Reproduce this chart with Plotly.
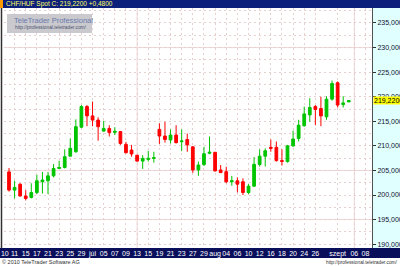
import plotly.graph_objects as go

W, H = 400, 266

# ---- data ----
opens = [204.7, 201.0, 202.2, 199.8, 199.5, 200.5, 202.7, 202.9, 203.9, 205.4,
         205.6, 207.9, 208.8, 213.8, 218.0, 216.1, 215.25, 213.0, 213.55, 212.75,
         212.9, 210.3, 209.15, 208.1, 206.9, 207.25, 207.45, 213.35, 212.0, 211.2,
         212.2, 210.85, 211.3, 209.8, 205.1, 206.2, 208.5, 208.7, 205.1, 204.75,
         202.7, 202.9, 202.7, 200.5, 201.8, 206.2, 207.9, 209.7, 209.7, 207.0,
         206.8, 210.0, 211.5, 214.1, 216.3, 218.0, 217.6, 215.9, 219.5, 222.85,
         218.4, 218.95]
highs = [205.5, 202.9, 202.4, 201.0, 202.4, 204.1, 204.7, 204.7, 206.3, 207.0,
         209.3, 211.5, 215.4, 218.3, 218.3, 219.0, 215.8, 215.1, 214.2, 213.8,
         213.0, 210.8, 210.2, 208.1, 208.1, 209.0, 208.8, 214.6, 214.9, 213.35,
         214.2, 213.35, 212.5, 209.95, 206.8, 209.8, 211.9, 208.7, 206.1, 205.75,
         203.9, 203.6, 203.4, 202.2, 207.7, 209.3, 209.5, 211.3, 210.9, 209.3,
         210.2, 213.1, 215.3, 218.0, 219.7, 218.3, 220.0, 220.1, 223.3, 223.1,
         220.1, 219.3]
lows = [200.7, 199.3, 199.7, 198.9, 199.3, 200.2, 200.3, 200.2, 203.6, 205.3,
        205.4, 207.9, 208.6, 213.6, 214.0, 214.0, 211.05, 212.9, 211.9, 212.2,
        210.2, 208.5, 207.8, 206.8, 205.3, 206.8, 206.6, 210.4, 210.65, 210.5,
        210.5, 208.95, 208.8, 204.5, 203.9, 205.9, 208.3, 204.8, 204.5, 202.4,
        201.9, 200.5, 200.0, 200.2, 201.7, 205.8, 205.8, 208.8, 206.8, 206.0,
        206.6, 209.8, 210.9, 213.9, 214.9, 214.2, 214.0, 215.3, 219.2, 217.8,
        217.8, 218.9]
closes = [201.0, 201.55, 199.8, 199.3, 200.5, 202.9, 203.05, 203.9, 205.4, 205.6,
          207.8, 209.5, 213.9, 218.0, 216.1, 215.25, 213.9, 213.55, 212.7, 212.95,
          210.5, 208.6, 208.35, 206.9, 207.45, 207.45, 207.6, 212.0, 211.3, 212.2,
          210.65, 211.0, 210.2, 205.1, 206.1, 208.4, 208.7, 204.9, 204.55, 202.7,
          202.9, 202.2, 200.5, 201.8, 206.25, 207.9, 209.0, 209.5, 207.0, 206.85,
          210.0, 211.4, 214.2, 216.5, 217.8, 217.4, 216.1, 219.5, 222.7, 218.3,
          218.74, 219.22]
x_idx = list(range(len(opens)))

x_tick_idx = [-0.75, 1, 3, 5, 7, 9, 11, 13, 15, 17, 19, 21, 23, 25, 27, 29, 31, 33, 35,
              37, 39, 41, 43, 45, 47, 49, 51, 53, 55, 59, 62, 64]
x_tick_text = ["10", "11", "15", "17", "21", "23", "25", "29", "júl", "05", "07",
               "09", "13", "15", "19", "21", "23", "27", "29", "aug", "04", "06",
               "10", "12", "16", "18", "20", "24", "26", "szept", "06", "08"]

y_tick_vals = [190, 195, 200, 205, 210, 215, 220, 225, 230, 235]
y_tick_text = ["190,0000", "195,0000", "200,0000", "205,0000", "210,0000",
               "215,0000", "220,0000", "225,0000", "230,0000", "235,0000"]
y_minor_vals = [192.5, 197.5, 202.5, 207.5, 212.5, 217.5, 222.5, 227.5, 232.5, 237.5]
solid_y = [195, 205, 230]
solid_x = [23, 62]

title_text = "CHF/HUF Spot C: 219,2200 +0,4800"
last_close_label = "219,2200"

# ---- helpers (pixel -> paper) ----
def px(x):
    return x / W

def py(y):
    return 1 - y / H

PLOT_L, PLOT_R, PLOT_T, PLOT_B = 4, 372, 8, 248
GRID = "#e6cfcf"
NAVY_TOP = "#0c1f7a"
NAVY_BOT = "#0a0f5c"
GREEN = "#00c400"
RED = "#ff0000"
FONT = "Liberation Sans, Arial, sans-serif"

fig = go.Figure()
fig.add_trace(go.Candlestick(
    x=x_idx, open=opens, high=highs, low=lows, close=closes,
    increasing=dict(line=dict(color=GREEN, width=1), fillcolor=GREEN),
    decreasing=dict(line=dict(color=RED, width=1), fillcolor=RED),
    whiskerwidth=0, showlegend=False, hoverinfo="skip",
))

shapes = [
    # title bar
    dict(type="rect", xref="paper", yref="paper", x0=0, x1=1, y0=py(8), y1=1,
         fillcolor=NAVY_TOP, line=dict(width=0), layer="below"),
    dict(type="rect", xref="paper", yref="paper", x0=0, x1=px(3), y0=py(8), y1=1,
         fillcolor="#ff9900", line=dict(width=0), layer="below"),
    # right axis panel
    dict(type="rect", xref="paper", yref="paper", x0=px(PLOT_R), x1=1,
         y0=py(PLOT_B), y1=py(PLOT_T), fillcolor="#e0ffff", line=dict(width=0),
         layer="below"),
    # bottom date bar
    dict(type="rect", xref="paper", yref="paper", x0=0, x1=1, y0=py(258), y1=py(PLOT_B),
         fillcolor=NAVY_BOT, line=dict(width=0), layer="below"),
    # left dark edge
    dict(type="line", xref="paper", yref="paper", x0=px(1.5), x1=px(1.5),
         y0=py(PLOT_B), y1=py(PLOT_T), line=dict(color="#303030", width=1.5),
         layer="below"),
    # watermark box
    dict(type="rect", xref="paper", yref="paper", x0=px(7), x1=px(92),
         y0=py(33), y1=py(14), fillcolor="#c9c9ce", line=dict(width=0),
         layer="above"),
]
for v in solid_y:
    shapes.append(dict(type="line", xref="x domain", yref="y", x0=0, x1=1, y0=v, y1=v,
                       line=dict(color="#f0d6d6", width=1), layer="below"))
for v in solid_x:
    shapes.append(dict(type="line", xref="x", yref="y domain", x0=v, x1=v, y0=0, y1=1,
                       line=dict(color="#f0d6d6", width=1), layer="below"))

annotations = [
    dict(text=title_text, xref="paper", yref="paper", x=px(4), y=py(4),
         xanchor="left", yanchor="middle", showarrow=False,
         font=dict(family=FONT, size=6.5, color="#ffff66")),
    dict(text=last_close_label, xref="paper", yref="y", x=px(373), y=closes[-1],
         xanchor="left", yanchor="middle", showarrow=False, bgcolor="#ffff00",
         borderpad=0, font=dict(family=FONT, size=7, color="#000000")),
    dict(text="TeleTrader Professional", xref="paper", yref="paper",
         x=px(12), y=py(20), xanchor="left", yanchor="middle", showarrow=False,
         font=dict(family=FONT, size=7.5, color="#6a7aac")),
    dict(text="http://professional.teletrader.com/", xref="paper", yref="paper",
         x=px(89), y=py(27.5), xanchor="right", yanchor="middle", showarrow=False,
         font=dict(family=FONT, size=4.8, color="#4a5270")),
    dict(text="© 2010 TeleTrader Software AG", xref="paper", yref="paper",
         x=0, y=py(262), xanchor="left", yanchor="middle", showarrow=False,
         font=dict(family=FONT, size=5.5, color="#303030")),
    dict(text="http://professional.teletrader.com/", xref="paper", yref="paper",
         x=1, y=py(262), xanchor="right", yanchor="middle", showarrow=False,
         font=dict(family=FONT, size=4.8, color="#303030")),
]

fig.update_layout(
    width=W, height=H,
    margin=dict(l=0, r=0, t=0, b=0, pad=0),
    paper_bgcolor="#ffffff", plot_bgcolor="#ffffff",
    showlegend=False,
    shapes=shapes, annotations=annotations,
    xaxis=dict(
        domain=[px(PLOT_L), px(PLOT_R)], range=[-0.9, 65.17],
        tickmode="array", tickvals=x_tick_idx, ticktext=x_tick_text,
        tickangle=0, showgrid=True, gridcolor=GRID, griddash="2px,3px", gridwidth=1,
        zeroline=False, showline=False, ticks="", automargin=False,
        tickfont=dict(family=FONT, size=7, color="#ffffff"),
        rangeslider=dict(visible=False), fixedrange=True,
    ),
    yaxis=dict(
        domain=[py(PLOT_B), py(PLOT_T)], range=[189.22, 238.05], side="right",
        tickmode="array", tickvals=y_tick_vals, ticktext=y_tick_text,
        showgrid=True, gridcolor=GRID, griddash="2px,3px", gridwidth=1,
        minor=dict(tickvals=y_minor_vals, showgrid=True, gridcolor=GRID,
                   griddash="2px,3px", gridwidth=1, ticks=""),
        zeroline=False, showline=True, linecolor="#505050", linewidth=1,
        ticks="outside", ticklen=3, tickcolor="#303030", automargin=False,
        tickfont=dict(family=FONT, size=7, color="#101030"), fixedrange=True,
    ),
)

fig.write_html("out.html")
